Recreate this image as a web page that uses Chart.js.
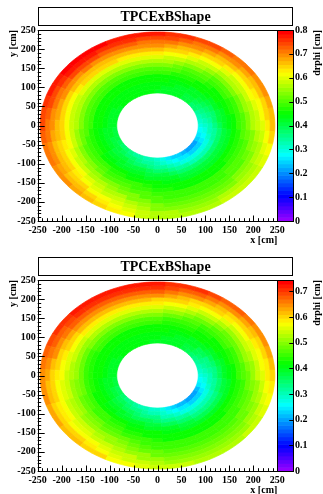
<!DOCTYPE html>
<html>
<head>
<meta charset="utf-8">
<script src="https://cdn.jsdelivr.net/npm/chart.js@4.4.1/dist/chart.umd.min.js"></script>
<style>
  html, body { margin: 0; padding: 0; background: #fff; overflow: hidden; }
  canvas { display: block; }
</style>
</head>
<body>
<canvas id="top" width="323" height="250"></canvas>
<canvas id="bottom" width="323" height="250"></canvas>
<script>
// Polar binning of the drift volume: 48 sectors of 7.5 deg, 16 rings of 10 cm
const sectorAngles = [0, 7.5, 15, 22.5, 30, 37.5, 45, 52.5, 60, 67.5, 75, 82.5,
                      90, 97.5, 105, 112.5, 120, 127.5, 135, 142.5, 150, 157.5, 165, 172.5,
                      180, 187.5, 195, 202.5, 210, 217.5, 225, 232.5, 240, 247.5, 255, 262.5,
                      270, 277.5, 285, 292.5, 300, 307.5, 315, 322.5, 330, 337.5, 345, 352.5];
const sectorWidth = 7.5;
const ringRadii = [90, 100, 110, 120, 130, 140, 150, 160, 170, 180, 190, 200, 210, 220, 230, 240];
const ringWidth = 10;

// Axis ticks
const xyTicks = [-250, -200, -150, -100, -50, 0, 50, 100, 150, 200, 250];
const zTicksTop = [0, 0.1, 0.2, 0.3, 0.4, 0.5, 0.6, 0.7, 0.8];
const zTicksBottom = [0, 0.1, 0.2, 0.3, 0.4, 0.5, 0.6, 0.7];
const zMaxTop = 0.8;
const zMaxBottom = 0.744;
const panelTitle = 'TPCExBShape';

// drphi [cm], one row per sector (inner ring -> outer ring)
const drphiTop = [
  [.30,.31,.33,.36,.39,.42,.44,.46,.48,.51,.53,.56,.58,.60,.63,.66],
  [.31,.32,.34,.37,.40,.42,.44,.46,.48,.51,.54,.56,.59,.61,.64,.67],
  [.33,.34,.36,.38,.41,.43,.45,.47,.49,.52,.55,.57,.60,.62,.65,.68],
  [.35,.36,.37,.39,.42,.44,.45,.47,.49,.52,.55,.58,.61,.63,.66,.69],
  [.37,.38,.39,.41,.43,.45,.46,.48,.50,.53,.56,.59,.62,.64,.67,.70],
  [.38,.39,.40,.42,.44,.45,.46,.48,.50,.53,.56,.59,.62,.65,.68,.71],
  [.40,.41,.42,.43,.45,.46,.47,.49,.51,.54,.57,.60,.63,.66,.69,.72],
  [.41,.41,.42,.43,.45,.46,.48,.50,.52,.55,.58,.61,.64,.67,.70,.73],
  [.42,.42,.43,.44,.45,.47,.49,.51,.53,.56,.59,.62,.65,.68,.71,.74],
  [.42,.43,.43,.44,.45,.47,.49,.51,.54,.57,.60,.63,.66,.69,.72,.75],
  [.43,.43,.44,.44,.46,.47,.50,.52,.55,.58,.61,.64,.67,.70,.73,.76],
  [.43,.43,.44,.45,.46,.48,.50,.53,.56,.59,.62,.65,.68,.71,.74,.76],
  [.43,.44,.44,.45,.46,.48,.51,.54,.57,.60,.63,.66,.69,.72,.75,.77],
  [.44,.44,.44,.45,.46,.48,.51,.54,.57,.60,.63,.66,.69,.72,.75,.77],
  [.44,.44,.44,.45,.46,.48,.51,.54,.57,.60,.63,.66,.69,.73,.76,.78],
  [.44,.44,.44,.45,.46,.48,.51,.54,.57,.60,.63,.66,.70,.73,.76,.78],
  [.44,.44,.44,.45,.46,.48,.51,.54,.57,.60,.64,.67,.70,.73,.76,.79],
  [.44,.44,.44,.45,.46,.48,.51,.54,.57,.60,.64,.67,.70,.74,.77,.79],
  [.44,.44,.44,.45,.46,.48,.51,.54,.57,.60,.64,.67,.71,.74,.77,.79],
  [.44,.44,.44,.45,.46,.48,.51,.54,.57,.60,.64,.67,.70,.74,.77,.79],
  [.43,.44,.44,.45,.46,.48,.51,.54,.57,.60,.63,.66,.70,.73,.76,.78],
  [.43,.43,.44,.45,.46,.48,.50,.53,.56,.59,.62,.65,.69,.72,.75,.77],
  [.43,.43,.44,.45,.46,.48,.50,.53,.56,.59,.62,.65,.68,.71,.74,.76],
  [.42,.43,.44,.45,.46,.48,.50,.53,.56,.59,.62,.65,.68,.70,.73,.75],
  [.42,.43,.44,.45,.46,.48,.50,.53,.56,.59,.62,.65,.67,.69,.72,.74],
  [.41,.42,.43,.44,.45,.47,.50,.52,.55,.58,.61,.64,.66,.68,.71,.73],
  [.41,.42,.43,.44,.45,.47,.49,.52,.55,.58,.61,.63,.65,.67,.70,.72],
  [.40,.41,.42,.44,.45,.47,.49,.51,.54,.57,.60,.62,.64,.66,.69,.71],
  [.39,.41,.42,.44,.45,.47,.49,.51,.54,.56,.59,.62,.64,.66,.68,.70],
  [.38,.40,.41,.43,.44,.46,.48,.50,.53,.55,.58,.61,.63,.65,.67,.69],
  [.37,.39,.41,.43,.44,.46,.48,.50,.52,.55,.57,.60,.62,.64,.66,.68],
  [.36,.38,.40,.42,.43,.45,.47,.49,.51,.54,.56,.58,.60,.62,.64,.66],
  [.35,.37,.39,.41,.43,.45,.47,.49,.51,.53,.55,.57,.59,.61,.63,.65],
  [.34,.36,.38,.40,.42,.44,.46,.48,.50,.52,.54,.56,.58,.60,.61,.63],
  [.33,.35,.37,.40,.42,.44,.46,.48,.49,.51,.53,.54,.56,.58,.60,.61],
  [.32,.34,.36,.39,.41,.43,.45,.47,.48,.50,.51,.53,.55,.56,.58,.59],
  [.31,.33,.35,.38,.41,.43,.45,.46,.47,.48,.50,.51,.53,.54,.56,.57],
  [.29,.31,.34,.37,.40,.42,.44,.45,.47,.48,.49,.51,.52,.54,.56,.57],
  [.27,.29,.32,.36,.39,.42,.44,.45,.46,.48,.49,.50,.52,.54,.55,.57],
  [.25,.28,.31,.35,.38,.41,.43,.45,.46,.48,.49,.50,.52,.53,.55,.57],
  [.24,.27,.30,.34,.38,.41,.43,.45,.46,.48,.49,.50,.52,.53,.55,.57],
  [.23,.26,.29,.33,.37,.40,.43,.45,.46,.48,.49,.50,.52,.54,.56,.58],
  [.22,.25,.29,.33,.37,.40,.43,.45,.46,.48,.49,.50,.52,.54,.56,.58],
  [.22,.25,.29,.33,.37,.40,.43,.45,.46,.48,.50,.51,.53,.55,.57,.59],
  [.22,.25,.29,.33,.37,.40,.43,.45,.47,.48,.50,.51,.53,.55,.57,.59],
  [.24,.26,.30,.33,.37,.40,.43,.45,.47,.49,.51,.52,.54,.56,.58,.60],
  [.26,.28,.31,.34,.38,.41,.43,.45,.47,.49,.51,.53,.55,.57,.60,.62],
  [.28,.30,.32,.35,.38,.41,.43,.45,.47,.50,.52,.54,.56,.58,.61,.64]
];

const drphiBottom = [
  [.28,.29,.31,.33,.36,.39,.41,.43,.45,.47,.49,.52,.54,.56,.59,.61],
  [.29,.30,.32,.34,.37,.39,.41,.43,.45,.47,.50,.52,.55,.57,.59,.62],
  [.31,.32,.33,.35,.38,.40,.42,.44,.46,.48,.51,.53,.56,.58,.60,.63],
  [.32,.33,.34,.36,.39,.41,.42,.44,.46,.48,.51,.54,.56,.59,.61,.64],
  [.34,.35,.36,.38,.40,.42,.43,.45,.47,.49,.52,.55,.57,.60,.62,.65],
  [.35,.36,.37,.39,.41,.42,.43,.45,.47,.49,.52,.55,.58,.60,.63,.66],
  [.37,.38,.39,.40,.42,.43,.44,.46,.47,.50,.53,.56,.59,.61,.64,.67],
  [.38,.38,.39,.40,.42,.43,.44,.46,.48,.51,.54,.57,.60,.62,.65,.68],
  [.39,.39,.40,.41,.42,.44,.45,.47,.49,.52,.55,.58,.61,.63,.66,.69],
  [.39,.39,.40,.41,.42,.44,.45,.47,.50,.53,.56,.59,.61,.64,.67,.70],
  [.40,.40,.41,.41,.43,.44,.46,.48,.51,.54,.57,.60,.62,.65,.68,.71],
  [.40,.40,.41,.42,.43,.44,.46,.49,.52,.55,.58,.60,.63,.66,.69,.71],
  [.40,.41,.41,.42,.43,.45,.47,.50,.53,.56,.59,.61,.64,.67,.70,.72],
  [.40,.41,.41,.42,.43,.45,.47,.50,.53,.56,.59,.62,.64,.67,.70,.72],
  [.41,.41,.41,.42,.43,.45,.47,.50,.53,.56,.59,.62,.64,.67,.70,.72],
  [.41,.41,.41,.42,.43,.45,.47,.50,.53,.56,.59,.62,.65,.68,.70,.72],
  [.41,.41,.41,.42,.43,.45,.47,.50,.53,.56,.59,.62,.65,.68,.70,.72],
  [.41,.41,.41,.42,.43,.45,.47,.50,.53,.56,.59,.62,.65,.68,.70,.72],
  [.41,.41,.41,.42,.43,.45,.47,.50,.53,.56,.59,.62,.65,.68,.70,.72],
  [.41,.41,.41,.42,.43,.45,.47,.50,.53,.56,.59,.62,.64,.67,.69,.71],
  [.40,.41,.41,.42,.43,.45,.47,.50,.52,.55,.58,.61,.63,.66,.68,.70],
  [.40,.40,.41,.42,.43,.44,.46,.49,.52,.55,.57,.60,.62,.65,.67,.69],
  [.40,.40,.41,.42,.43,.44,.46,.49,.51,.54,.56,.59,.61,.64,.66,.68],
  [.39,.40,.41,.42,.43,.44,.46,.48,.51,.53,.56,.58,.60,.62,.64,.66],
  [.39,.40,.41,.42,.43,.44,.46,.48,.51,.53,.55,.57,.59,.61,.63,.65],
  [.38,.39,.40,.41,.42,.44,.46,.48,.50,.52,.54,.56,.58,.60,.62,.64],
  [.38,.39,.40,.41,.42,.44,.46,.48,.50,.52,.54,.56,.58,.60,.62,.64],
  [.37,.38,.39,.41,.42,.43,.45,.47,.49,.51,.53,.55,.57,.59,.61,.63],
  [.36,.38,.39,.41,.42,.43,.45,.47,.49,.51,.53,.55,.57,.59,.61,.63],
  [.35,.37,.38,.40,.41,.43,.45,.46,.48,.50,.52,.54,.56,.58,.60,.62],
  [.34,.36,.38,.40,.41,.43,.45,.46,.48,.50,.52,.54,.56,.58,.60,.62],
  [.33,.35,.37,.39,.40,.42,.44,.45,.47,.49,.51,.53,.55,.57,.59,.61],
  [.32,.34,.36,.38,.40,.42,.44,.45,.47,.49,.51,.52,.54,.56,.58,.60],
  [.31,.33,.35,.37,.39,.41,.43,.44,.46,.48,.50,.51,.53,.55,.56,.58],
  [.30,.32,.34,.37,.39,.41,.43,.44,.46,.47,.49,.50,.52,.54,.55,.57],
  [.29,.31,.33,.36,.38,.40,.42,.43,.45,.46,.47,.49,.51,.52,.54,.56],
  [.29,.31,.33,.35,.38,.40,.42,.43,.44,.45,.46,.48,.49,.51,.53,.55],
  [.27,.29,.31,.34,.37,.39,.41,.42,.43,.45,.46,.47,.48,.50,.52,.54],
  [.25,.27,.30,.33,.36,.39,.41,.42,.43,.45,.46,.47,.48,.50,.52,.54],
  [.23,.26,.29,.32,.35,.38,.40,.42,.43,.45,.46,.47,.48,.50,.51,.53],
  [.22,.25,.28,.32,.35,.38,.40,.42,.43,.45,.46,.47,.48,.50,.51,.53],
  [.21,.24,.27,.31,.34,.37,.40,.42,.43,.45,.46,.47,.48,.50,.51,.53],
  [.20,.23,.27,.31,.34,.37,.40,.42,.43,.45,.46,.47,.48,.50,.51,.53],
  [.20,.23,.27,.31,.34,.37,.40,.42,.43,.45,.46,.47,.49,.50,.52,.54],
  [.20,.23,.27,.31,.34,.37,.40,.42,.44,.45,.46,.48,.49,.51,.53,.55],
  [.22,.24,.28,.31,.34,.37,.40,.42,.44,.45,.47,.48,.50,.52,.54,.56],
  [.24,.26,.29,.32,.35,.38,.40,.42,.44,.46,.47,.49,.51,.53,.56,.58],
  [.26,.27,.30,.32,.35,.38,.40,.42,.44,.46,.48,.50,.52,.54,.57,.59]
];

const FONT = 'Liberation Serif, Times New Roman, serif';
const NCOL = 50;

// violet -> red spectrum, 50 steps
function paletteColor(i) {
  const hue = 280 - (i + 1) * (280 / NCOL);
  return 'hsl(' + hue.toFixed(2) + ',100%,50%)';
}
function colorFor(v, zmax) {
  let i = Math.floor(v / zmax * NCOL);
  if (i < 0) i = 0;
  if (i > NCOL - 1) i = NCOL - 1;
  return paletteColor(i);
}

const heatmapPlugin = {
  id: 'heatmap',
  beforeDatasetsDraw(chart, args, opts) {
    const { ctx, chartArea, scales } = chart;
    const sx = scales.x, sy = scales.y;
    ctx.save();
    ctx.beginPath();
    ctx.rect(chartArea.left, chartArea.top, chartArea.right - chartArea.left, chartArea.bottom - chartArea.top);
    ctx.clip();
    const steps = 4;
    sectorAngles.forEach((a, s) => {
      const a0 = (a - sectorWidth / 2) * Math.PI / 180;
      const a1 = (a + sectorWidth / 2) * Math.PI / 180;
      ringRadii.forEach((r, k) => {
        const v = opts.values[s][k];
        const r0 = r - ringWidth / 2, r1 = r + ringWidth / 2;
        ctx.beginPath();
        for (let t = 0; t <= steps; t++) {
          const ang = a0 + (a1 - a0) * t / steps;
          const px = sx.getPixelForValue(r1 * Math.cos(ang));
          const py = sy.getPixelForValue(r1 * Math.sin(ang));
          if (t === 0) ctx.moveTo(px, py); else ctx.lineTo(px, py);
        }
        for (let t = steps; t >= 0; t--) {
          const ang = a0 + (a1 - a0) * t / steps;
          ctx.lineTo(sx.getPixelForValue(r0 * Math.cos(ang)), sy.getPixelForValue(r0 * Math.sin(ang)));
        }
        ctx.closePath();
        const c = colorFor(v, opts.zmax);
        ctx.fillStyle = c;
        ctx.strokeStyle = c;
        ctx.lineWidth = 0.7;
        ctx.fill();
        ctx.stroke();
      });
    });
    ctx.restore();
  },
  afterDatasetsDraw(chart, args, opts) {
    const { ctx, chartArea, scales } = chart;
    const sx = scales.x, sy = scales.y, sz = scales.z;
    const L = chartArea.left, R = chartArea.right, T = chartArea.top, B = chartArea.bottom;
    const barW = 16;
    ctx.save();

    // colour scale boxes
    for (let i = 0; i < NCOL; i++) {
      const y0 = sz.getPixelForValue(i * opts.zmax / NCOL);
      const y1 = sz.getPixelForValue((i + 1) * opts.zmax / NCOL);
      ctx.fillStyle = paletteColor(i);
      ctx.fillRect(R, y1, barW, y0 - y1 + 0.6);
    }

    ctx.strokeStyle = '#000';
    ctx.lineWidth = 1;
    const crisp = v => Math.round(v) + 0.5;

    // frame and colour-bar outline
    ctx.strokeRect(crisp(L), crisp(T), Math.round(R) - Math.round(L), Math.round(B) - Math.round(T));
    ctx.strokeRect(crisp(R), crisp(T), barW, Math.round(B) - Math.round(T));

    // inward ticks on x and y axes
    ctx.beginPath();
    for (let v = -250; v <= 250; v += 10) {
      const major = v % 50 === 0;
      const px = crisp(sx.getPixelForValue(v));
      ctx.moveTo(px, B);
      ctx.lineTo(px, B - (major ? 5.5 : 2.8));
      const py = crisp(sy.getPixelForValue(v));
      ctx.moveTo(L, py);
      ctx.lineTo(L + (major ? 7 : 3.5), py);
    }
    // colour-bar ticks
    opts.zTicks.forEach(v => {
      const py = crisp(sz.getPixelForValue(v));
      ctx.moveTo(R + barW, py);
      ctx.lineTo(R + barW - 4, py);
    });
    ctx.stroke();

    // colour-bar title
    ctx.fillStyle = '#000';
    ctx.font = 'bold 10px ' + FONT;
    ctx.translate(317, T);
    ctx.rotate(-Math.PI / 2);
    ctx.textAlign = 'right';
    ctx.textBaseline = 'middle';
    ctx.fillText('drphi [cm]', 0, 0);
    ctx.setTransform(1, 0, 0, 1, 0, 0);

    // title box
    ctx.fillStyle = '#fff';
    ctx.fillRect(38, 7, 255, 19);
    ctx.strokeRect(38.5, 7.5, 254, 18);
    ctx.fillStyle = '#000';
    ctx.font = 'bold 14px ' + FONT;
    ctx.textAlign = 'center';
    ctx.textBaseline = 'middle';
    ctx.fillText(panelTitle, 165.5, 17);
    ctx.restore();
  }
};

function makePanel(id, values, zmax, zTicks) {
  const tickFont = { family: FONT, size: 10, weight: 'bold' };
  const setTicks = list => scale => { scale.ticks = list.map(v => ({ value: v })); };
  return new Chart(document.getElementById(id), {
    type: 'scatter',
    data: { datasets: [] },
    plugins: [heatmapPlugin],
    options: {
      responsive: false,
      animation: false,
      devicePixelRatio: 1,
      layout: { padding: { top: 30, left: 0, right: 0, bottom: 0 } },
      plugins: {
        legend: { display: false },
        tooltip: { enabled: false },
        heatmap: { values: values, zmax: zmax, zTicks: zTicks }
      },
      scales: {
        x: {
          type: 'linear', position: 'bottom', min: -250, max: 250,
          afterBuildTicks: setTicks(xyTicks),
          afterFit: s => { s.height = 29; },
          grid: { display: false, drawTicks: false },
          border: { display: false },
          ticks: { font: tickFont, color: '#000', padding: 3, maxRotation: 0, autoSkip: false,
                   callback: v => String(v) },
          title: { display: true, text: 'x [cm]', align: 'end', color: '#000', font: tickFont,
                   padding: { top: 0, bottom: 4 } }
        },
        y: {
          type: 'linear', position: 'left', min: -250, max: 250,
          afterBuildTicks: setTicks(xyTicks),
          afterFit: s => { s.width = 37.7; },
          grid: { display: false, drawTicks: false },
          border: { display: false },
          ticks: { font: tickFont, color: '#000', padding: 2, autoSkip: false,
                   callback: v => String(v) },
          title: { display: true, text: 'y [cm]', align: 'end', color: '#000', font: tickFont,
                   padding: { top: 7, bottom: 0 } }
        },
        z: {
          type: 'linear', position: 'right', min: 0, max: zmax,
          afterBuildTicks: setTicks(zTicks),
          afterFit: s => { s.width = 45.7; },
          grid: { display: false, drawTicks: false },
          border: { display: false },
          ticks: { font: tickFont, color: '#000', padding: 17.7, autoSkip: false,
                   callback: v => String(Math.round(v * 10) / 10) }
        }
      }
    }
  });
}

makePanel('top', drphiTop, zMaxTop, zTicksTop);
makePanel('bottom', drphiBottom, zMaxBottom, zTicksBottom);
</script>
</body>
</html>
